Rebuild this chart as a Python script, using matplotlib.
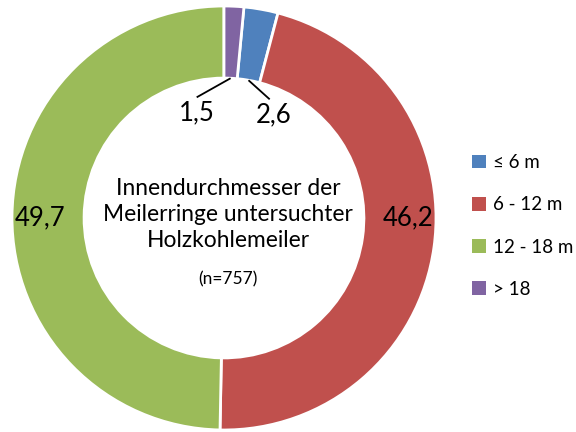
import numpy as np
import matplotlib
matplotlib.use('Agg')
import matplotlib.pyplot as plt
from matplotlib.patches import Patch

plt.rcParams['font.family'] = ['Lato', 'DejaVu Sans']

# Anteile in Prozent
categories = ['≤ 6 m', '6 - 12 m', '12 - 18 m', '> 18']
values = [2.6, 46.2, 49.7, 1.5]
value_labels = ['2,6', '46,2', '49,7', '1,5']
colors = ['#4F81BD', '#C0504D', '#9BBB59', '#8064A2']

RING = 0.34
# first slice starts just right of 12 o'clock, after the purple one
start = 90 - values[-1] * 3.6

fig = plt.figure(figsize=(5.76, 4.32), dpi=100)
ax = fig.add_axes([12 / 576, 2 / 432, 424 / 576, 424 / 432])

wedges, _ = ax.pie(values, colors=colors, startangle=start, counterclock=False,
                   radius=1, wedgeprops=dict(width=RING, edgecolor='white', linewidth=2))
ax.set_xlim(-1, 1)
ax.set_ylim(-1, 1)
ax.set_aspect('equal')
ax.axis('off')

# label positions
inner = 1 - RING
for i, w in enumerate(wedges):
    mid = np.deg2rad((w.theta1 + w.theta2) / 2)
    if values[i] < 5:
        # small slices: leader line from the inner edge down to the label
        x0, y0 = inner * np.cos(mid), inner * np.sin(mid)
        dx = -0.16 if i == 3 else 0.10
        x1, y1 = x0 + dx, y0 - 0.09
        ax.plot([x0, x1], [y0, y1], color='black', lw=1.3, solid_capstyle='butt')
        ax.text(x1 + (0 if i == 3 else 0.02), y1 - 0.015, value_labels[i],
                ha='center', va='top', fontsize=18.5)
    else:
        side = np.sign(np.cos(mid))
        ax.text(side * 0.87, 0, value_labels[i], ha='center', va='center',
                fontsize=18.5)

ax.text(0.02, 0.015, 'Innendurchmesser der\nMeilerringe untersuchter\nHolzkohlemeiler',
        ha='center', va='center', fontsize=16.4, linespacing=1.3)
ax.text(0.02, -0.29, '(n=757)', ha='center', va='center', fontsize=12.5)

handles = [Patch(facecolor=c, edgecolor='none') for c in colors]
fig.legend(handles, categories, loc='center left', bbox_to_anchor=(0.79, 0.477),
           frameon=False, fontsize=13.5, handlelength=0.75, handleheight=0.75,
           handletextpad=0.4, labelspacing=1.35)

fig.savefig('out.png', dpi=100)
